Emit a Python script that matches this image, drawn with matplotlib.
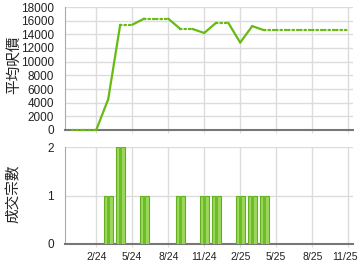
import matplotlib
matplotlib.use("Agg")
import matplotlib.pyplot as plt
import matplotlib.transforms as mtransforms

plt.rcParams['font.family'] = ['Liberation Sans', 'Noto Sans CJK TC', 'DejaVu Sans']

# monthly data, 12/23 .. 11/25 (month 0 = 2/24)
month_idx = list(range(-2, 22))
avg_price = [0, 0, 0, 4500, 15400, 15400, 16300, 16300, 16300, 14800, 14800,
             14200, 15700, 15700, 12800, 15200, 14600, 14600, 14600, 14600,
             14600, 14600, 14600, 14600]
deals = [0, 0, 0, 1, 2, 0, 1, 0, 0, 1, 0, 1, 1, 0, 1, 1, 1, 0, 0, 0, 0, 0, 0, 0]

tick_pos = [0, 3, 6, 9, 12, 15, 18, 21]
tick_labels = ['2/24', '5/24', '8/24', '11/24', '2/25', '5/25', '8/25', '11/25']

green = '#66bb11'
grid_c = '#dcdcdc'

fig = plt.figure(figsize=(3.6, 2.7), dpi=100)
W, H = 360, 270
ax1 = fig.add_axes([65 / W, (H - 130) / H, 288 / W, 123 / H])
ax2 = fig.add_axes([65 / W, (H - 244) / H, 288 / W, 97 / H])

#line chart: solid when the month has deals, dotted otherwise
for i in range(1, len(month_idx)):
    ls = '-' if deals[i] > 0 else (0, (0.7, 1.3))
    ax1.plot(month_idx[i - 1:i + 1], avg_price[i - 1:i + 1], color=green,
             lw=1.6, linestyle=ls, solid_capstyle='round', dash_capstyle='round',
             zorder=5, clip_on=False)

ax1.set_ylim(0, 18000)
ax1.set_yticks(range(0, 18001, 2000))

#bars
bx = [m for m, d in zip(month_idx, deals) if d > 0]
bh = [d for d in deals if d > 0]
ax2.bar(bx, bh, width=0.72, color='#9dd65e', edgecolor='#62b020', lw=0.8, zorder=3)
ax2.bar(bx, bh, width=0.22, color='#6cbf22', lw=0, zorder=4)
ax2.set_ylim(0, 2)
ax2.set_yticks([0, 1, 2])

# axis titles placed by hand
fig.text(14 / W, 1 - 65 / H, '平均呎價', rotation=90, fontsize=10.5,
         ha='center', va='center', color='#222222')
fig.text(14 / W, 1 - 194 / H, '成交宗數', rotation=90, fontsize=10.5,
         ha='center', va='center', color='#222222')

for ax in (ax1, ax2):
    ax.set_xlim(-2.6, 21.4)
    ax.set_xticks(tick_pos)
    ax.grid(True, color=grid_c, lw=1)
    ax.set_axisbelow(True)
    ax.spines['top'].set_visible(False)
    ax.spines['right'].set_visible(False)
    ax.spines['left'].set_color('#aaaaaa')
    ax.spines['bottom'].set_color('#777777')
    ax.spines['bottom'].set_linewidth(1.5)
    ax.tick_params(axis='y', length=0, pad=8, labelsize=8.5, labelcolor='#222222')
    ax.tick_params(axis='x', length=2, color=grid_c, labelsize=7.5, labelcolor='#222222')

ax1.set_xticklabels([])
ax2.set_xticklabels(tick_labels)
# nudge the last label so it stays inside the picture
last = ax2.get_xticklabels()[-1]
last.set_transform(last.get_transform() +
                   mtransforms.ScaledTranslation(-3 / 100, 0, fig.dpi_scale_trans))

fig.savefig('out.png', dpi=100)
